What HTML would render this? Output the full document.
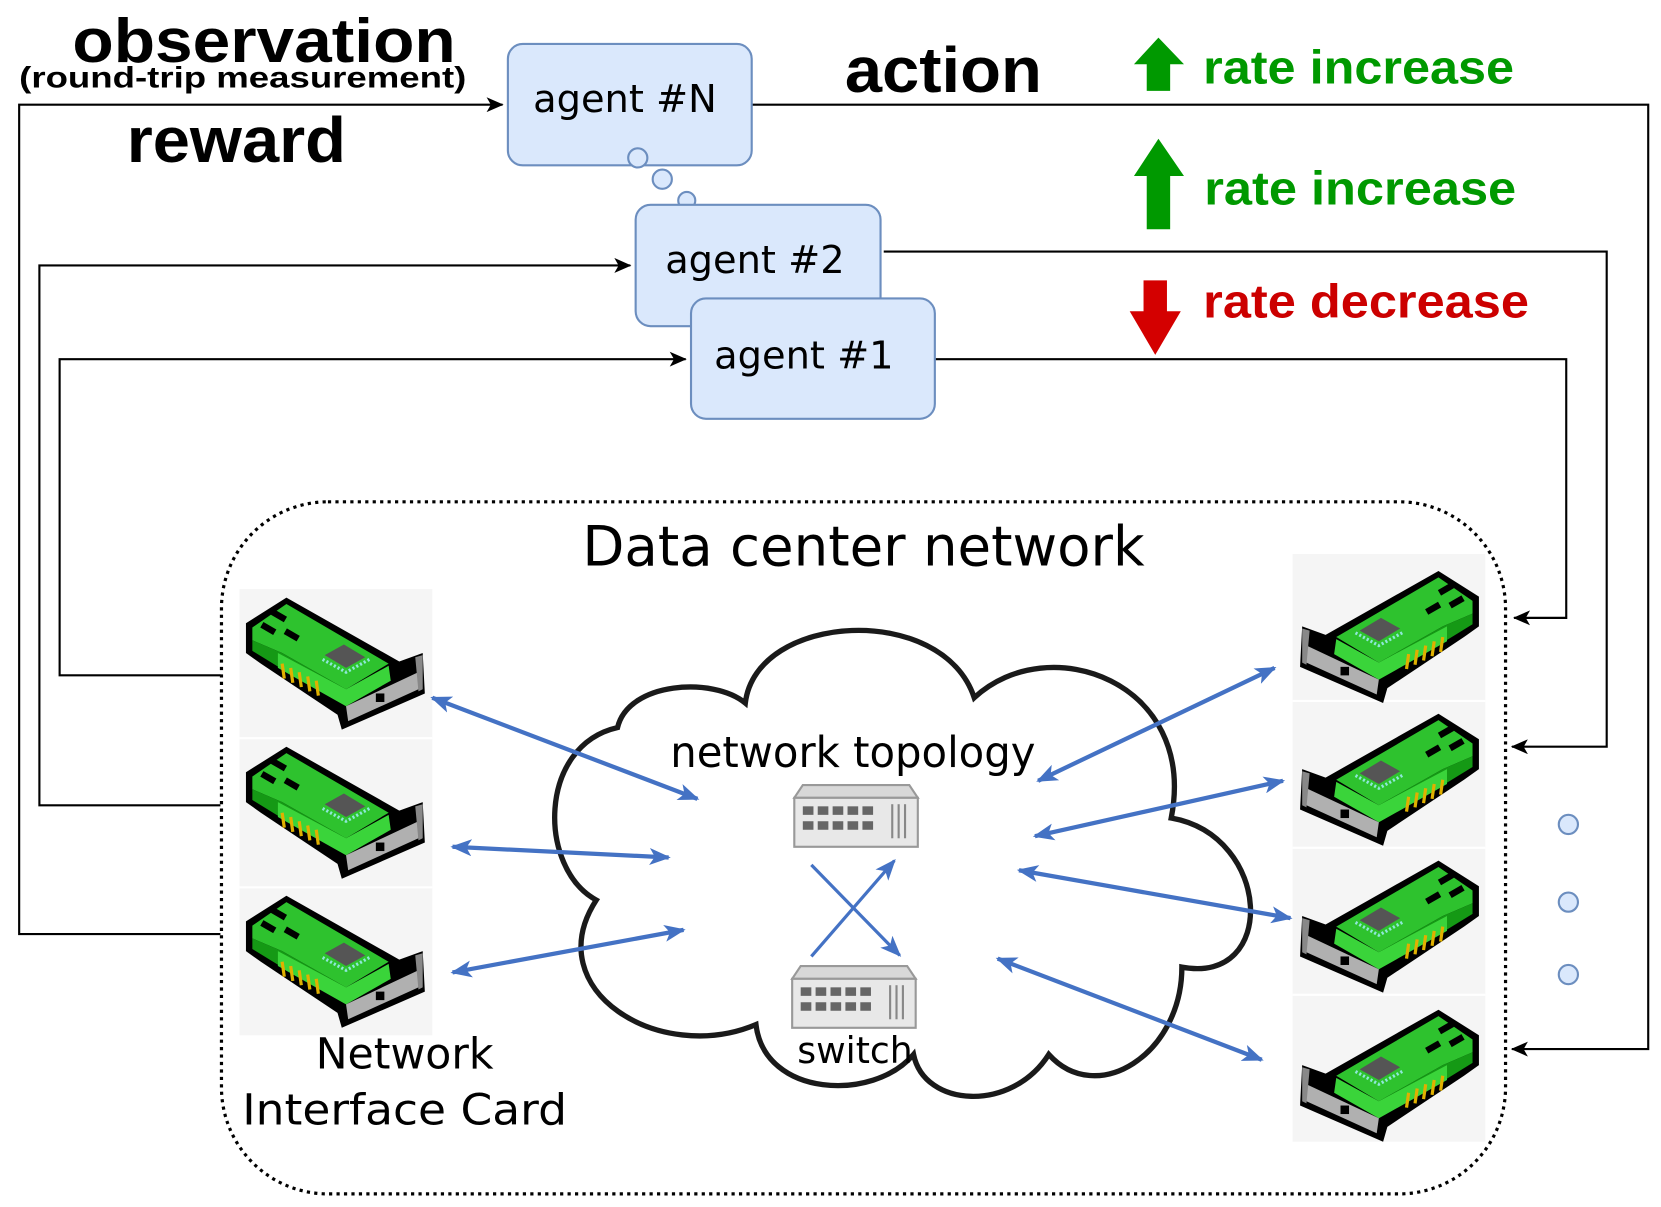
<!DOCTYPE html>
<html><head><meta charset="utf-8"><style>html,body{margin:0;padding:0;background:#fff}svg{display:block}</style></head>
<body>
<svg width="1661" height="1207" viewBox="0 0 1560 1133" xmlns="http://www.w3.org/2000/svg" font-family="Liberation Sans, DejaVu Sans, sans-serif">
<defs>
<marker id="ak" markerWidth="16" markerHeight="14" refX="15" refY="7" orient="auto" markerUnits="userSpaceOnUse" viewBox="0 0 16 14"><path d="M0,0 L16,7 L0,14 L4,7 Z" fill="#000"/></marker>
<marker id="ab" markerWidth="20" markerHeight="16" refX="18" refY="8" orient="auto-start-reverse" markerUnits="userSpaceOnUse" viewBox="0 0 20 16"><path d="M0,0 L20,8 L0,16 L5,8 Z" fill="#4472c4"/></marker>
<g id="nic">
<polygon points="6,32 44,8 150,68 172,60 174,98 96,132 92,118 20,70 6,60" fill="#000"/>
<polygon points="12,36 44,14 140,70 100,94 40,60 12,48" fill="#2ec22e"/>
<polygon points="12,48 40,60 100,94 100,108 38,74 12,58" fill="#159915"/>
<polygon points="36,60 100,94 140,72 142,86 100,110 36,74" fill="#3ad43a"/>
<rect x="30" y="22" width="14" height="6" fill="#000" transform="rotate(30 37 25)"/>
<rect x="20" y="34" width="14" height="6" fill="#000" transform="rotate(30 27 37)"/>
<rect x="42" y="40" width="14" height="6" fill="#000" transform="rotate(30 49 43)"/>
<polygon points="80,62 98,52 118,64 100,74" fill="#555"/>
<path d="M78,66 L100,78 L122,66" stroke="#8ee8d8" stroke-width="3" fill="none" stroke-dasharray="2 2"/>
<g stroke="#e0b000" stroke-width="3"><line x1="40" y1="70" x2="42" y2="84"/><line x1="48" y1="74" x2="50" y2="88"/><line x1="56" y1="78" x2="58" y2="92"/><line x1="64" y1="82" x2="66" y2="96"/><line x1="72" y1="86" x2="74" y2="100"/></g>
<polygon points="100,110 168,78 168,94 102,124" fill="#b0b0b0"/>
<polygon points="165,64 172,62 172,94 168,96" fill="#888"/>
<rect x="128" y="98" width="8" height="8" fill="#000"/>
</g>
<g id="sw">
<polygon points="8,0 108,0 116,12 0,12" fill="#d8d8d8" stroke="#999" stroke-width="2"/>
<rect x="0" y="12" width="116" height="46" fill="#e8e8e8" stroke="#999" stroke-width="2"/>
<g fill="#666"><rect x="8" y="20" width="10" height="8"/><rect x="22" y="20" width="10" height="8"/><rect x="36" y="20" width="10" height="8"/><rect x="50" y="20" width="10" height="8"/><rect x="64" y="20" width="10" height="8"/><rect x="8" y="34" width="10" height="8"/><rect x="22" y="34" width="10" height="8"/><rect x="36" y="34" width="10" height="8"/><rect x="50" y="34" width="10" height="8"/><rect x="64" y="34" width="10" height="8"/></g>
<g stroke="#888" stroke-width="2"><line x1="92" y1="18" x2="92" y2="50"/><line x1="98" y1="18" x2="98" y2="50"/><line x1="104" y1="18" x2="104" y2="50"/></g>
</g>
</defs>

<text x="248" y="58" font-size="58" font-weight="bold" text-anchor="middle" textLength="360" lengthAdjust="spacingAndGlyphs">observation</text>
<text x="228" y="82" font-size="28" font-weight="bold" text-anchor="middle" textLength="420" lengthAdjust="spacingAndGlyphs">(round-trip measurement)</text>
<text x="222" y="152" font-size="60" font-weight="bold" text-anchor="middle" textLength="206" lengthAdjust="spacingAndGlyphs">reward</text>
<text x="886" y="86" font-size="60" font-weight="bold" text-anchor="middle" textLength="185" lengthAdjust="spacingAndGlyphs">action</text>

<polygon points="1088,35 1112,60 1099,60 1099,85 1077,85 1077,60 1065,60" fill="#009900"/>
<text x="1130" y="78" font-size="44" font-weight="bold" fill="#009900" textLength="292" lengthAdjust="spacingAndGlyphs">rate increase</text>
<polygon points="1088,130 1112,165 1099,165 1099,215 1077,215 1077,165 1065,165" fill="#009900"/>
<text x="1131" y="192" font-size="44" font-weight="bold" fill="#009900" textLength="293" lengthAdjust="spacingAndGlyphs">rate increase</text>
<polygon points="1074,263 1096,263 1096,292 1109,292 1085,333 1061,292 1074,292" fill="#d40000"/>
<text x="1130" y="298" font-size="44" font-weight="bold" fill="#cc0000" textLength="306" lengthAdjust="spacingAndGlyphs">rate decrease</text>

<g fill="none" stroke="#000" stroke-width="2">
<polyline points="207,877 18,877 18,98 472,98" marker-end="url(#ak)"/>
<polyline points="207,756 37,756 37,249 592,249" marker-end="url(#ak)"/>
<polyline points="207,634 56,634 56,337 644,337" marker-end="url(#ak)"/>
<polyline points="706,98 1548,98 1548,985 1420,985" marker-end="url(#ak)"/>
<polyline points="830,236 1509,236 1509,701 1420,701" marker-end="url(#ak)"/>
<polyline points="878,337 1471,337 1471,580 1422,580" marker-end="url(#ak)"/>
</g>

<g fill="#dae8fc" stroke="#6c8ebf" stroke-width="2">
<rect x="477" y="41" width="229" height="114" rx="14"/>
<circle cx="599" cy="148" r="9"/>
<circle cx="622" cy="168" r="9"/>
<circle cx="645" cy="188" r="8"/>
<rect x="597" y="192" width="230" height="114" rx="14"/>
<rect x="649" y="280" width="229" height="113" rx="14"/>
</g>
<g font-family="DejaVu Sans, Liberation Sans, sans-serif" font-size="36" text-anchor="middle">
<text x="587" y="105">agent #N</text>
<text x="709" y="256">agent #2</text>
<text x="755" y="346">agent #1</text>
</g>

<rect x="208" y="471" width="1206" height="650" rx="100" fill="none" stroke="#000" stroke-width="3" stroke-dasharray="3 4"/>
<text x="811" y="531" font-size="52" font-family="DejaVu Sans, Liberation Sans, sans-serif" text-anchor="middle" textLength="528" lengthAdjust="spacingAndGlyphs">Data center network</text>

<rect x="225" y="553" width="181" height="419" fill="#f5f5f5"/>
<line x1="225" y1="693" x2="406" y2="693" stroke="#fff" stroke-width="2"/>
<line x1="225" y1="833" x2="406" y2="833" stroke="#fff" stroke-width="2"/>
<rect x="1214" y="520" width="181" height="552" fill="#f5f5f5"/>
<line x1="1214" y1="658" x2="1395" y2="658" stroke="#fff" stroke-width="2"/>
<line x1="1214" y1="796" x2="1395" y2="796" stroke="#fff" stroke-width="2"/>
<line x1="1214" y1="934" x2="1395" y2="934" stroke="#fff" stroke-width="2"/>

<use href="#nic" x="225" y="553"/>
<use href="#nic" x="225" y="693"/>
<use href="#nic" x="225" y="833"/>
<g transform="translate(1395,520) scale(-1,1)">
<use href="#nic" x="0" y="8"/>
<use href="#nic" x="0" y="142"/>
<use href="#nic" x="0" y="280"/>
<use href="#nic" x="0" y="420"/>
</g>

<path d="M560,845 C505,815 505,700 580,683 C590,640 670,635 700,660 C710,575 885,565 915,655 C985,590 1125,640 1100,768 C1195,785 1200,925 1110,908 C1110,990 1030,1040 985,990 C950,1045 868,1040 858,990 C820,1035 718,1030 710,962 C620,1000 505,930 560,845 Z" fill="#fff" stroke="#1a1a1a" stroke-width="5"/>
<text x="801" y="720" font-size="40" font-family="DejaVu Sans, Liberation Sans, sans-serif" text-anchor="middle" textLength="343" lengthAdjust="spacingAndGlyphs">network topology</text>
<use href="#sw" x="746" y="737"/>
<use href="#sw" x="744" y="907"/>
<text x="803" y="998" font-size="34" font-family="DejaVu Sans, Liberation Sans, sans-serif" text-anchor="middle">switch</text>
<g stroke="#4472c4" stroke-width="3" fill="none">
<line x1="762" y1="812" x2="845" y2="897" marker-end="url(#ab)"/>
<line x1="762" y1="898" x2="840" y2="808" marker-end="url(#ab)"/>
</g>

<g stroke="#4472c4" stroke-width="4" fill="none" marker-start="url(#ab)" marker-end="url(#ab)">
<line x1="406" y1="655" x2="655" y2="750"/>
<line x1="425" y1="795" x2="628" y2="805"/>
<line x1="425" y1="913" x2="642" y2="873"/>
<line x1="975" y1="733" x2="1197" y2="627"/>
<line x1="972" y1="785" x2="1205" y2="733"/>
<line x1="957" y1="817" x2="1212" y2="862"/>
<line x1="937" y1="900" x2="1185" y2="995"/>
</g>

<g fill="#dae8fc" stroke="#6c8ebf" stroke-width="2">
<circle cx="1473" cy="774" r="9"/><circle cx="1473" cy="847" r="9"/><circle cx="1473" cy="915" r="9"/>
</g>

<g font-size="40" font-family="DejaVu Sans, Liberation Sans, sans-serif" text-anchor="middle">
<text x="380" y="1003">Network</text>
<text x="380" y="1056" textLength="305" lengthAdjust="spacingAndGlyphs">Interface Card</text>
</g>
</svg>
</body></html>
